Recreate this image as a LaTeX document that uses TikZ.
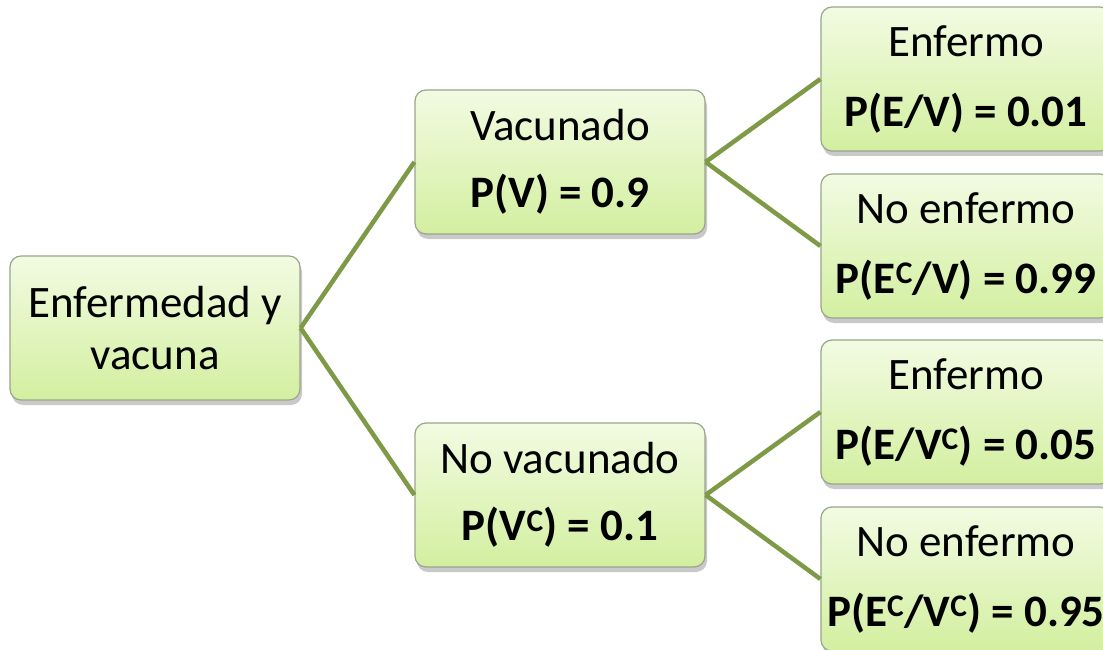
\documentclass[tikz,border=0pt]{standalone}
\usepackage{fontspec}
\setmainfont{Carlito}
\usetikzlibrary{shadows}
\definecolor{linegreen}{HTML}{7E9A46}
\definecolor{boxtop}{HTML}{F2FBE2}
\definecolor{boxbot}{HTML}{D3EFA0}
\definecolor{boxedge}{HTML}{9AA58C}
\tikzset{
  box/.style={draw=boxedge, line width=1.2pt, rounded corners=11pt,
    top color=boxtop, bottom color=boxbot,
    drop shadow={shadow xshift=2pt, shadow yshift=-5pt, opacity=0.35, fill=black!60},
    minimum width=290pt, minimum height=144pt, align=center, inner sep=0pt,
    font=\fontsize{45}{52}\selectfont},
  branch/.style={draw=linegreen, line width=4.5pt}
}
\newcommand{\cc}{\textsuperscript{C}}
\begin{document}
\begin{tikzpicture}[x=1pt,y=-1pt]
\useasboundingbox (0,0) rectangle (1103,650);
\fill[white] (0,0) rectangle (1103,650);
\node[box] (root) at (155,328) {Enfermedad y\\vacuna};
\node[box] (v) at (560,162) {Vacunado\\[15pt]\textbf{P(V) = 0.9}};
\node[box] (nv) at (560,495) {No vacunado\\[15pt]\textbf{P(V\cc) = 0.1}};
\node[box] (l1) at (966,79) {Enfermo\\[18pt]\textbf{P(E/V) = 0.01}};
\node[box] (l2) at (966,246) {No enfermo\\[18pt]\textbf{P(E\cc/V) = 0.99}};
\node[box] (l3) at (966,412) {Enfermo\\[18pt]\textbf{P(E/V\cc) = 0.05}};
\node[box] (l4) at (966,579) {No enfermo\\[18pt]\textbf{P(E\cc/V\cc) = 0.95}};
\draw[branch] (root.east) -- (v.west);
\draw[branch] (root.east) -- (nv.west);
\draw[branch] (v.east) -- (l1.west);
\draw[branch] (v.east) -- (l2.west);
\draw[branch] (nv.east) -- (l3.west);
\draw[branch] (nv.east) -- (l4.west);
\end{tikzpicture}
\end{document}
